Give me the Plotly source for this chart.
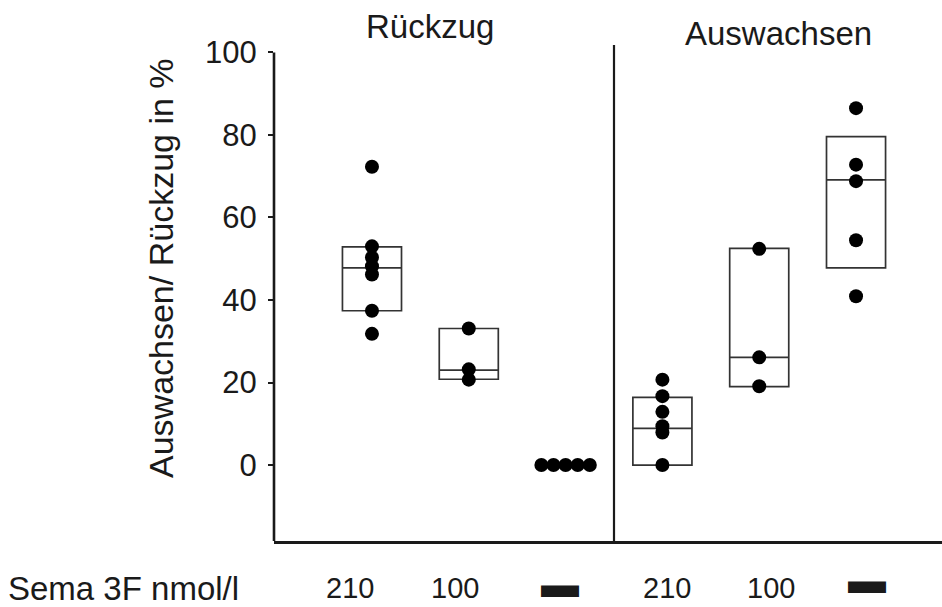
import plotly.graph_objects as go

# ---------------- data ----------------
categories = ["Rückzug 210", "Rückzug 100", "Rückzug ohne",
              "Auswachsen 210", "Auswachsen 100", "Auswachsen ohne"]
cat_pos = [0, 1, 2, 3, 4, 5]

retract_210 = [72.3, 53.0, 50.3, 48.2, 46.2, 37.4, 31.8]
retract_100 = [33.1, 23.2, 20.7]
retract_none = [0.0, 0.0, 0.0, 0.0, 0.0]
outgrowth_210 = [20.7, 16.7, 12.9, 9.4, 7.9, 0.0]
outgrowth_100 = [52.4, 26.1, 19.1]
outgrowth_none = [86.5, 72.8, 68.8, 54.5, 40.9]
group_values = [retract_210, retract_100, retract_none,
                outgrowth_210, outgrowth_100, outgrowth_none]

# box statistics (groups with a box)
box_pos = [0, 1, 3, 4, 5]
box_q1 = [37.4, 20.8, 0.0, 19.0, 47.8]
box_median = [47.8, 23.0, 8.9, 26.1, 69.1]
box_q3 = [52.9, 33.1, 16.4, 52.5, 79.6]

y_ticks = [0, 20, 40, 60, 80, 100]
bottom_labels = ["210", "100", "▬", "210", "100", "▬"]
row_label = "Sema 3F nmol/l"
panel_titles = ["Rückzug", "Auswachsen"]
y_title = "Auswachsen/ Rückzug in %"

# ---------------- layout helpers ----------------
W, H = 942, 607
L, R, T, B = 274, 0, 45, 66
PW, PH = W - L - R, H - T - B
def px_x(p):
    return (p - L) / PW
def px_y(p):
    return (H - B - p) / PH

Y_MIN, Y_MAX = -18.4, 101.8
X_MIN, X_MAX = -1.012, 5.888

# horizontal spread for tied points (beeswarm style)
def spread(vals, step=0.125):
    counts = {}
    for v in vals:
        counts[v] = counts.get(v, 0) + 1
    seen, offs = {}, []
    for v in vals:
        n = counts[v]
        k = seen.get(v, 0)
        seen[v] = k + 1
        offs.append((k - (n - 1) / 2) * step if n > 2 else 0.0)
    return offs

FONT = "Liberation Sans, Arial, sans-serif"
INK = "#1a1a1a"

fig = go.Figure()

fig.add_trace(go.Box(
    x=box_pos, q1=box_q1, median=box_median, q3=box_q3,
    lowerfence=box_q1, upperfence=box_q3,
    width=0.61, whiskerwidth=0, boxpoints=False,
    fillcolor="rgba(0,0,0,0)", line=dict(color="#333333", width=1.7),
    showlegend=False, hoverinfo="skip"))

for pos, vals in zip(cat_pos, group_values):
    offs = spread(vals)
    fig.add_trace(go.Scatter(
        x=[pos + o for o in offs], y=vals, mode="markers",
        marker=dict(size=14, color="#000000"),
        showlegend=False, cliponaxis=False))

shapes = [
    dict(type="line", xref="paper", yref="y", x0=0, x1=0, y0=Y_MIN, y1=max(y_ticks),
         line=dict(color=INK, width=2.6)),
    dict(type="line", xref="x", yref="paper", x0=2.5, x1=2.5, y0=0, y1=1,
         line=dict(color=INK, width=2.2)),
]

annotations = []
for txt, cx, cy in zip(panel_titles, [429.5, 778.5], [27, 33]):
    annotations.append(dict(text=txt, xref="paper", yref="paper", x=px_x(cx), y=px_y(cy),
                            xanchor="center", yanchor="middle", showarrow=False,
                            font=dict(family=FONT, size=33, color=INK)))
annotations.append(dict(text=y_title, xref="paper", yref="paper", x=px_x(161), y=px_y(268),
                        xanchor="center", yanchor="middle", textangle=-90, showarrow=False,
                        font=dict(family=FONT, size=34, color=INK)))
label_cx = [350, 455, 560, 667, 771, 867]
label_cy = [588, 588, 584, 588, 588, 580]
for txt, cx, cy in zip(bottom_labels, label_cx, label_cy):
    size = 29 if txt != "▬" else 38
    annotations.append(dict(text=txt, xref="paper", yref="paper", x=px_x(cx), y=px_y(cy),
                            xanchor="center", yanchor="middle", showarrow=False,
                            font=dict(family=FONT, size=size, color=INK)))
annotations.append(dict(text=row_label, xref="paper", yref="paper", x=px_x(123), y=px_y(588),
                        xanchor="center", yanchor="middle", showarrow=False,
                        font=dict(family=FONT, size=33, color=INK)))

fig.update_layout(
    width=W, height=H, margin=dict(l=L, r=R, t=T, b=B, autoexpand=False),
    paper_bgcolor="white", plot_bgcolor="white",
    font=dict(family=FONT, color=INK),
    shapes=shapes, annotations=annotations,
    xaxis=dict(range=[X_MIN, X_MAX], showline=True, linecolor=INK, linewidth=2.6,
               showticklabels=False, ticks="", showgrid=False, zeroline=False),
    yaxis=dict(range=[Y_MIN, Y_MAX], showline=False, tickvals=y_ticks,
               ticks="outside", ticklen=5, tickwidth=2, tickcolor=INK,
               ticklabelstandoff=5,
               tickfont=dict(family=FONT, size=31, color=INK),
               showgrid=False, zeroline=False),
)

fig.write_html("out.html")
